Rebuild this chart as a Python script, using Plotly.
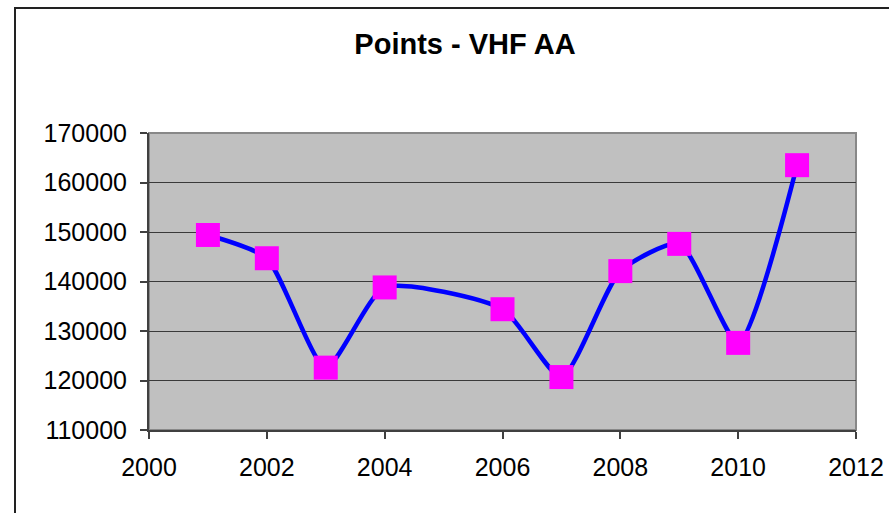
import plotly.graph_objects as go

years = [2001, 2002, 2003, 2004, 2006, 2007, 2008, 2009, 2010, 2011]
points = [149400, 144700, 122600, 138800, 134400, 120700, 142100, 147600, 127600, 163500]
x_ticks = [2000, 2002, 2004, 2006, 2008, 2010, 2012]
y_ticks = [110000, 120000, 130000, 140000, 150000, 160000, 170000]

W, H = 889, 513
L, R, T, B = 149, 856, 133, 430

fig = go.Figure()
fig.add_trace(go.Scatter(
    x=years, y=points, mode="lines",
    line=dict(color="#0000FF", width=4.5, shape="spline", smoothing=0.6),
    hoverinfo="skip", showlegend=False))
fig.add_trace(go.Scatter(
    x=years, y=points, mode="markers",
    marker=dict(symbol="square", size=24, color="#FF00FF",
                line=dict(color="#FF00FF", width=0)),
    showlegend=False))

font_family = "Liberation Sans, Arial, sans-serif"

def px_x(p):
    return (p - L) / (R - L)

def px_y(p):
    return (B - p) / (B - T)

fig.update_layout(
    width=W, height=H,
    margin=dict(l=L, r=W - R, t=T, b=H - B, autoexpand=False),
    paper_bgcolor="white", plot_bgcolor="#C0C0C0",
    font=dict(family=font_family, color="black", size=25),
    title=dict(text="<b>Points - VHF AA</b>", x=465 / W, xanchor="center",
               y=1 - 44 / H, yanchor="middle",
               font=dict(size=29, family=font_family, color="black")),
    xaxis=dict(range=[2000, 2012], tickvals=x_ticks, ticktext=[str(v) for v in x_ticks],
               showgrid=False, zeroline=False, showline=True, linecolor="#404040", linewidth=2,
               ticks="outside", ticklen=7, tickcolor="#404040", tickwidth=2,
               tickfont=dict(size=25), ticklabelstandoff=7, automargin=False),
    yaxis=dict(range=[110000, 170000], tickvals=y_ticks, ticktext=[str(v) for v in y_ticks],
               showgrid=True, gridcolor="#3a3a3a", gridwidth=1, zeroline=False,
               showline=True, linecolor="#404040", linewidth=2,
               ticks="outside", ticklen=7, tickcolor="#404040", tickwidth=2,
               tickfont=dict(size=25), ticklabelstandoff=8, automargin=False),
    shapes=[
        dict(type="rect", xref="paper", yref="paper", x0=0, x1=1, y0=0, y1=1,
             line=dict(color="#888888", width=2), layer="below"),
        dict(type="rect", xref="paper", yref="paper",
             x0=px_x(15), x1=px_x(W + 20), y0=px_y(H + 20), y1=px_y(8),
             line=dict(color="#222222", width=2), fillcolor="rgba(0,0,0,0)", layer="above"),
    ],
)

fig.write_html("out.html", config={"displayModeBar": False},
               post_script="document.body.style.margin='0';")
